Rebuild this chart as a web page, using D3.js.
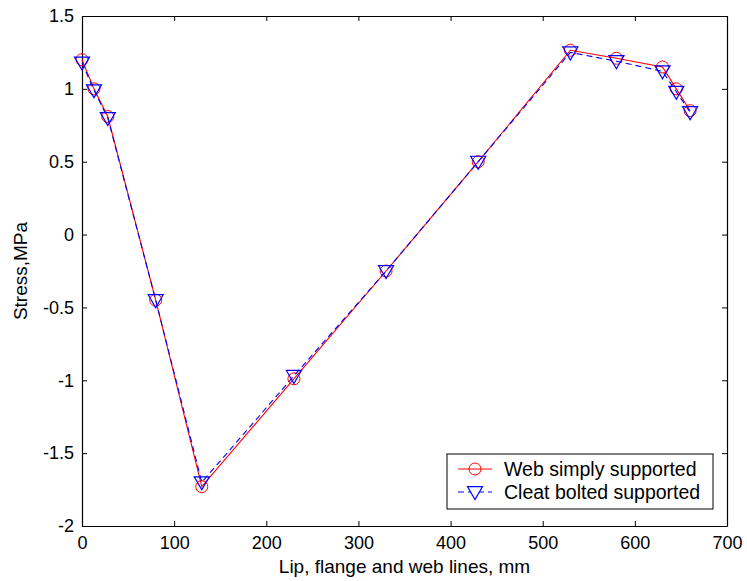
<!DOCTYPE html>
<html lang="en">
<head>
    <meta charset="UTF-8">
    <title>Stress along lip, flange and web lines</title>
    <style>
        html, body { margin: 0; padding: 0; background: #fff; overflow: hidden; }
        svg text { font-family: "Liberation Sans", Arial, sans-serif; fill: #000; }
    </style>
</head>
<body>
    <div id="chart"></div>
    <script src="https://cdn.jsdelivr.net/npm/d3@7"></script>
    <script>
        // positions along the lines (mm)
        const positions = [0, 13, 28, 80, 130, 230, 330, 430, 530, 580, 630, 645, 660];
        // web simply supported
        const webSimply = [1.20, 1.00, 0.81, -0.45, -1.73, -0.99, -0.25, 0.50, 1.265, 1.21, 1.15, 1.00, 0.85];
        // cleat bolted supported
        const cleatBolted = [1.18, 0.99, 0.80, -0.45, -1.70, -0.97, -0.25, 0.50, 1.25, 1.19, 1.12, 0.98, 0.84];
        const xTicks = [0, 100, 200, 300, 400, 500, 600, 700];
        const yTicks = [-2, -1.5, -1, -0.5, 0, 0.5, 1, 1.5];
        const seriesNames = ['Web simply supported', 'Cleat bolted supported'];

        const width = 747, height = 581;
        const margin = { left: 82, right: 20, top: 16, bottom: 55 };

        const svg = d3.select('#chart').append('svg')
            .attr('width', width)
            .attr('height', height);

        const x = d3.scaleLinear().domain([0, 700]).range([margin.left, width - margin.right]);
        const y = d3.scaleLinear().domain([-2, 1.5]).range([height - margin.bottom, margin.top]);

        const fmt = d => String(d);

        // box axes, ticks pointing inwards
        svg.append('g')
            .attr('transform', `translate(0,${y(-2)})`)
            .call(d3.axisBottom(x).tickValues(xTicks).tickFormat(fmt).tickSizeInner(-5).tickSizeOuter(0).tickPadding(10));
        svg.append('g')
            .attr('transform', `translate(0,${y(1.5)})`)
            .call(d3.axisTop(x).tickValues(xTicks).tickFormat('').tickSizeInner(-5).tickSizeOuter(0));
        svg.append('g')
            .attr('transform', `translate(${x(0)},0)`)
            .call(d3.axisLeft(y).tickValues(yTicks).tickFormat(fmt).tickSizeInner(-5).tickSizeOuter(0).tickPadding(8));
        svg.append('g')
            .attr('transform', `translate(${x(700)},0)`)
            .call(d3.axisRight(y).tickValues(yTicks).tickFormat('').tickSizeInner(-5).tickSizeOuter(0));

        svg.selectAll('.domain').attr('stroke', '#000').attr('stroke-width', 1.2);
        svg.selectAll('.tick line').attr('stroke', '#000');
        svg.selectAll('.tick text').attr('font-size', 18).attr('font-family', '"Liberation Sans", Arial, sans-serif');

        // axis titles
        svg.append('text')
            .attr('x', (x(0) + x(700)) / 2)
            .attr('y', 573)
            .attr('text-anchor', 'middle')
            .attr('font-size', 19)
            .text('Lip, flange and web lines, mm');
        svg.append('text')
            .attr('transform', `translate(27,${(y(-2) + y(1.5)) / 2}) rotate(-90)`)
            .attr('text-anchor', 'middle')
            .attr('font-size', 19)
            .text('Stress,MPa');

        const line = d3.line().x(d => x(d[0])).y(d => y(d[1]));
        const redPts = positions.map((p, i) => [p, webSimply[i]]);
        const bluePts = positions.map((p, i) => [p, cleatBolted[i]]);

        const triPath = s => `M${-s * 0.58},${-s * 0.42}L${s * 0.58},${-s * 0.42}L0,${s * 0.58}Z`;

        // red solid with circles
        svg.append('path')
            .datum(redPts)
            .attr('d', line)
            .attr('fill', 'none')
            .attr('stroke', '#ff0000')
            .attr('stroke-width', 1.1);
        svg.append('g').selectAll('circle')
            .data(redPts)
            .join('circle')
            .attr('cx', d => x(d[0]))
            .attr('cy', d => y(d[1]))
            .attr('r', 6)
            .attr('fill', 'none')
            .attr('stroke', '#ff0000')
            .attr('stroke-width', 1);

        // blue dashed with down triangles
        svg.append('path')
            .datum(bluePts)
            .attr('d', line)
            .attr('fill', 'none')
            .attr('stroke', '#0000ff')
            .attr('stroke-width', 1.1)
            .attr('stroke-dasharray', '6,4');
        svg.append('g').selectAll('path')
            .data(bluePts)
            .join('path')
            .attr('transform', d => `translate(${x(d[0])},${y(d[1])})`)
            .attr('d', triPath(13))
            .attr('fill', 'none')
            .attr('stroke', '#0000ff')
            .attr('stroke-width', 1.2);

        // legend
        const lg = svg.append('g').attr('transform', 'translate(447,454)');
        lg.append('rect')
            .attr('width', 266).attr('height', 55)
            .attr('fill', '#fff').attr('stroke', '#000').attr('stroke-width', 1);
        const rows = [
            { name: seriesNames[0], color: '#ff0000', dash: null, y: 15 },
            { name: seriesNames[1], color: '#0000ff', dash: '6,4', y: 38 }
        ];
        rows.forEach((r, i) => {
            lg.append('line')
                .attr('x1', 11).attr('x2', 45)
                .attr('y1', r.y).attr('y2', r.y)
                .attr('stroke', r.color)
                .attr('stroke-dasharray', r.dash);
            if (i === 0) {
                lg.append('circle').attr('cx', 28).attr('cy', r.y).attr('r', 6)
                    .attr('fill', 'none').attr('stroke', r.color);
            } else {
                lg.append('path').attr('transform', `translate(28,${r.y})`)
                    .attr('d', triPath(13))
                    .attr('fill', '#fff').attr('stroke', r.color).attr('stroke-width', 1.2);
            }
            lg.append('text')
                .attr('x', 57).attr('y', r.y + 6.5)
                .attr('font-size', 19.5)
                .text(r.name);
        });
    </script>
</body>
</html>
